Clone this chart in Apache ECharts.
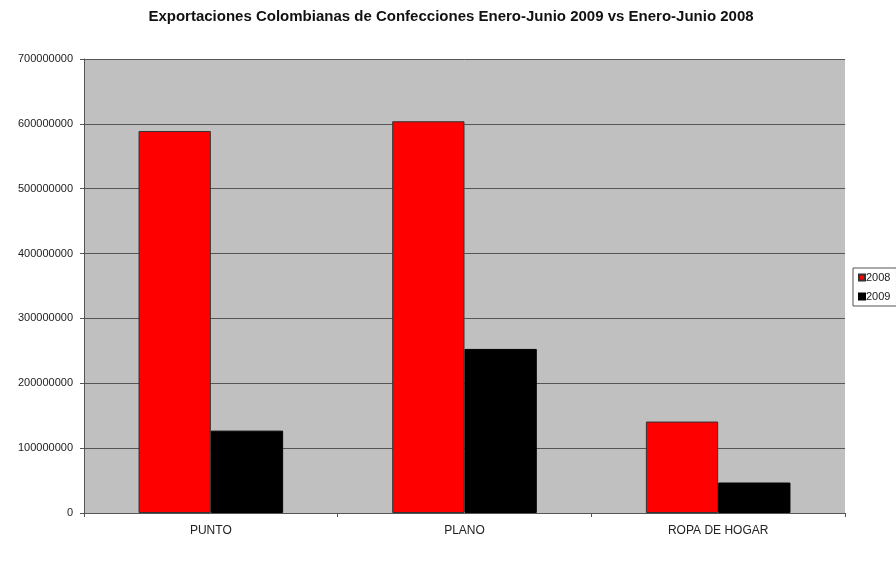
<!DOCTYPE html>
<html><head><meta charset="utf-8">
<script src="https://cdn.jsdelivr.net/npm/echarts@6/dist/echarts.min.js"></script>
<style>html,body{margin:0;padding:0;background:#fff}#c{width:896px;height:563px}</style>
</head><body><div id="c"></div>
<script>
const categories = ['PUNTO', 'PLANO', 'ROPA DE HOGAR'];
const values2008 = [589000000, 604000000, 141000000];
const values2009 = [127000000, 253000000, 47000000];
const seriesNames = ['2008', '2009'];

const chart = echarts.init(document.getElementById('c'));
const font = '"Liberation Sans", Arial, sans-serif';
chart.setOption({
  animation: false,
  backgroundColor: '#ffffff',
  title: {
    text: 'Exportaciones Colombianas de Confecciones Enero-Junio 2009 vs Enero-Junio 2008',
    left: 446, top: 4, textAlign: 'center',
    textStyle: {fontFamily: font, fontSize: 15, fontWeight: 'bold', color: '#111'}
  },
  legend: {
    orient: 'vertical', left: 853, top: 268,
    itemWidth: 6, itemHeight: 6, itemGap: 8,
    padding: [4, 6, 4, 5],
    borderColor: '#555', borderWidth: 1,
    textStyle: {fontFamily: font, fontSize: 11, color: '#222', padding: [0,0,0,-4]},
    data: seriesNames.map(n => ({name: n, icon: 'rect'}))
  },
  grid: {left: 84, right: 51, top: 59, bottom: 50, show: true, backgroundColor: '#c0c0c0', borderWidth: 0},
  xAxis: {
    type: 'category', data: categories,
    axisLine: {lineStyle: {color: '#555'}},
    axisTick: {show: true, length: 4, lineStyle: {color: '#555'}},
    axisLabel: {fontFamily: font, fontSize: 12, color: '#222', margin: 12}
  },
  yAxis: {
    type: 'value', min: 0, max: 700000000, interval: 100000000,
    axisLine: {show: true, lineStyle: {color: '#555'}},
    axisTick: {show: true, length: 4, lineStyle: {color: '#555'}},
    splitLine: {lineStyle: {color: '#555', width: 1}},
    axisLabel: {fontFamily: font, fontSize: 11, color: '#222', margin: 11, formatter: v => String(v)}
  },
  series: [
    {name: seriesNames[0], type: 'bar', data: values2008, barGap: '0%', barCategoryGap: '43%',
     itemStyle: {color: '#ff0000', borderColor: '#333', borderWidth: 1}},
    {name: seriesNames[1], type: 'bar', data: values2009, barGap: '0%', barCategoryGap: '43%',
     itemStyle: {color: '#000000', borderColor: '#000', borderWidth: 1}}
  ]
});
</script></body></html>
